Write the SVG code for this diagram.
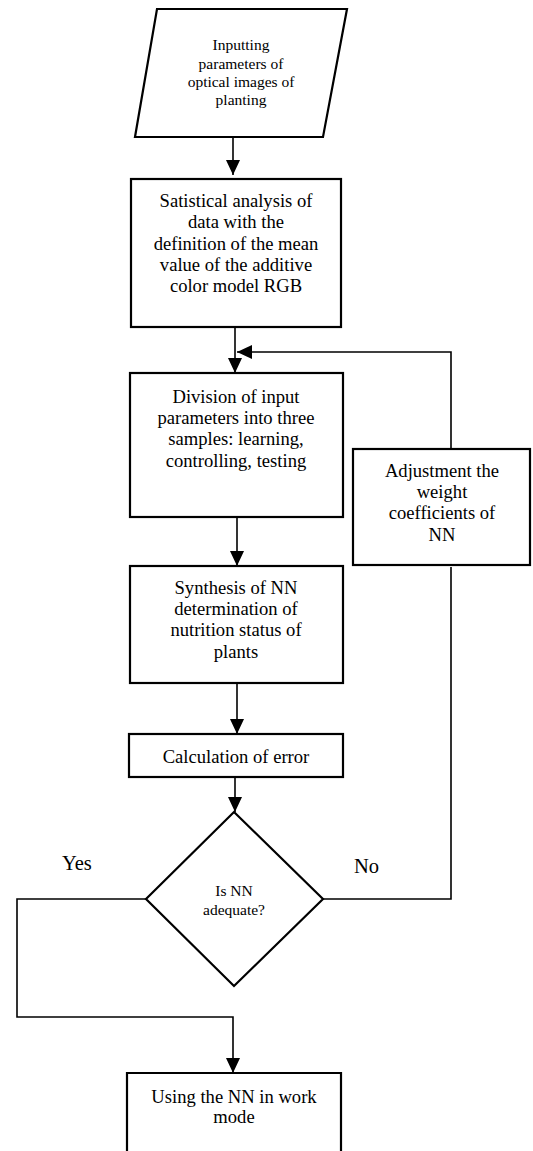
<svg xmlns="http://www.w3.org/2000/svg" width="533" height="1151" viewBox="0 0 533 1151">
<style>
.box{fill:#fff;stroke:#000;stroke-width:2.2}
.t{font-family:"Liberation Serif","Times New Roman",serif;font-size:18.6px;fill:#000;text-anchor:middle}
.ts{font-family:"Liberation Serif","Times New Roman",serif;font-size:15.5px;fill:#000;text-anchor:middle}
.tl{font-family:"Liberation Serif","Times New Roman",serif;font-size:20.5px;fill:#000}
.c{fill:none;stroke:#000;stroke-width:1.6}
</style>
<defs>
<marker id="ah" viewBox="0 0 15 14" refX="15" refY="7" markerWidth="15" markerHeight="14" markerUnits="userSpaceOnUse" orient="auto">
<path d="M0,0 L15,7 L0,14 Z" fill="#000"/>
</marker>
</defs>
<g id="connectors">
<path class="c" d="M233,137 V175" marker-end="url(#ah)"/>
<path class="c" d="M235,327 V373" marker-end="url(#ah)"/>
<path class="c" d="M451,449 V352 H237" marker-end="url(#ah)"/>
<path class="c" d="M237,517 V566" marker-end="url(#ah)"/>
<path class="c" d="M237,683 V734" marker-end="url(#ah)"/>
<path class="c" d="M235,777 V812" marker-end="url(#ah)"/>
<path class="c" d="M323,899 H451 V567"/>
<path class="c" d="M146,899 H17 V1017 H233 V1073" marker-end="url(#ah)"/>
</g>
<g id="input">
<polygon class="box" points="157,9 347,9 323,137 135,137"/>
<text class="ts" x="241" y="50">Inputting</text>
<text class="ts" x="241" y="68.5">parameters of</text>
<text class="ts" x="241" y="87">optical images of</text>
<text class="ts" x="241" y="105">planting</text>
</g>
<g id="stat">
<rect class="box" x="131" y="179" width="210" height="148"/>
<text class="t" x="236" y="207">Satistical analysis of</text>
<text class="t" x="236" y="228">data with the</text>
<text class="t" x="236" y="250">definition of the mean</text>
<text class="t" x="236" y="271">value of the additive</text>
<text class="t" x="236" y="292">color model RGB</text>
</g>
<g id="division">
<rect class="box" x="130" y="373" width="213" height="144"/>
<text class="t" x="236" y="403">Division of input</text>
<text class="t" x="236" y="424">parameters into three</text>
<text class="t" x="236" y="445">samples: learning,</text>
<text class="t" x="236" y="467">controlling, testing</text>
</g>
<g id="adjust">
<rect class="box" x="353" y="449" width="177" height="116"/>
<text class="t" x="442" y="477">Adjustment the</text>
<text class="t" x="442" y="498">weight</text>
<text class="t" x="442" y="519">coefficients of</text>
<text class="t" x="442" y="541">NN</text>
</g>
<g id="synthesis">
<rect class="box" x="130" y="566" width="213" height="117"/>
<text class="t" x="236" y="594">Synthesis of NN</text>
<text class="t" x="236" y="615">determination of</text>
<text class="t" x="236" y="636">nutrition status of</text>
<text class="t" x="236" y="658">plants</text>
</g>
<g id="calc">
<rect class="box" x="129" y="734" width="214" height="43"/>
<text class="t" x="236" y="763">Calculation of error</text>
</g>
<g id="decision">
<polygon class="box" points="234,812 323,899 234,986 146,899"/>
<text class="ts" x="234" y="896">Is NN</text>
<text class="ts" x="234" y="915">adequate?</text>
</g>
<g id="labels">
<text class="tl" x="62" y="870">Yes</text>
<text class="tl" x="354" y="873">No</text>
</g>
<g id="use">
<path class="box" d="M127,1152 V1073 H341 V1152"/>
<text class="t" x="234" y="1103">Using the NN in work</text>
<text class="t" x="234" y="1123">mode</text>
</g>
</svg>
